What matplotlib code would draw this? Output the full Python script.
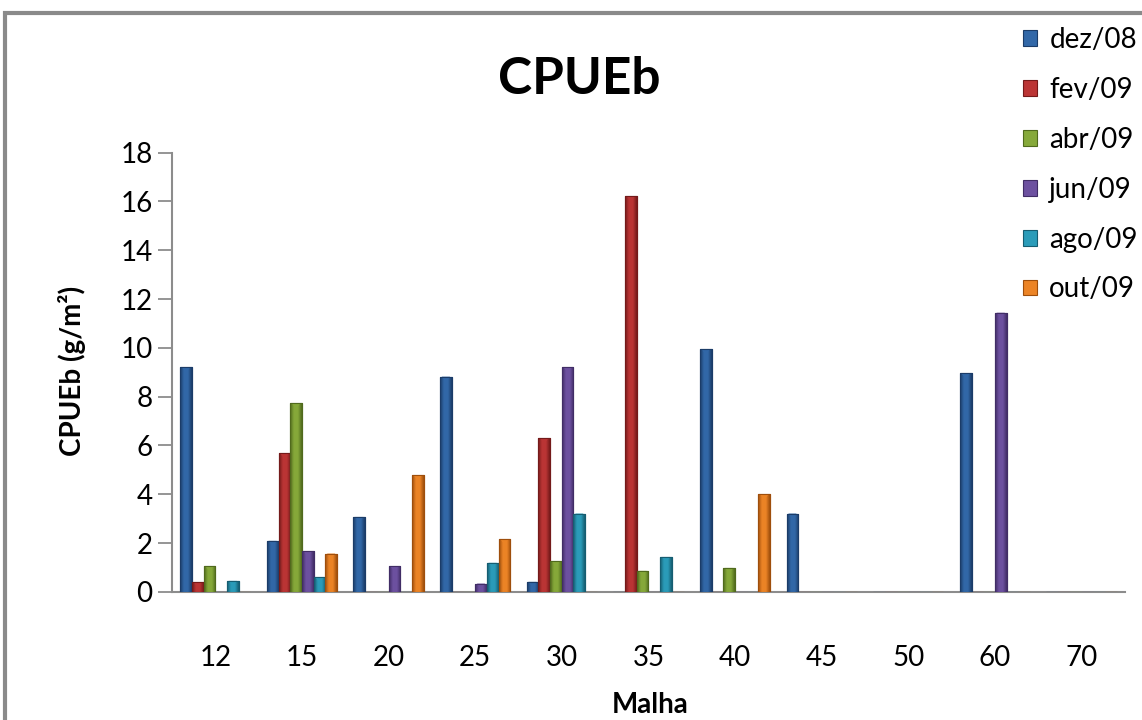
import numpy as np
import matplotlib
matplotlib.use("Agg")
import matplotlib.pyplot as plt
from matplotlib.colors import LinearSegmentedColormap
from matplotlib.patches import Rectangle, Polygon

plt.rcParams['font.family'] = ['Lato', 'DejaVu Sans']

malha = ["12", "15", "20", "25", "30", "35", "40", "45", "50", "60", "70"]
meses = ["dez/08", "fev/09", "abr/09", "jun/09", "ago/09", "out/09"]

dez08 = [9.20, 2.09, 3.07, 8.82, 0.41, 0, 9.94, 3.21, 0, 8.95, 0]
fev09 = [0.40, 5.67, 0, 0, 6.29, 16.22, 0, 0, 0, 0, 0]
abr09 = [1.05, 7.72, 0, 0, 1.26, 0.86, 0.98, 0, 0, 0, 0]
jun09 = [0, 1.66, 1.05, 0.34, 9.20, 0, 0, 0, 0, 11.44, 0]
ago09 = [0.45, 0.59, 0, 1.19, 3.21, 1.43, 0, 0, 0, 0, 0]
out09 = [0, 1.57, 4.77, 2.16, 0, 0, 3.99, 0, 0, 0, 0]
series = [dez08, fev09, abr09, jun09, ago09, out09]

# (centre, dark edge) colours per month
cores = [("#3268a8", "#1b3c68"), ("#bb3535", "#741a1a"), ("#86a93a", "#506a1d"),
         ("#6d51a0", "#412d66"), ("#2b9cb9", "#165d71"), ("#ec8426", "#9e4e0c")]

fig = plt.figure(figsize=(11.42, 7.2), dpi=100)
ax = fig.add_axes([0.1506, 0.178, 0.985 - 0.1506, 0.788 - 0.178])

x = np.arange(len(malha))
w = 0.135
for k, (vals, nome, (c, d)) in enumerate(zip(series, meses, cores)):
    pos = x - 2.5 * w + k * w
    bars = ax.bar(pos, vals, w, color=c, edgecolor=d, linewidth=0.8, label=nome, zorder=3)
    cmap = LinearSegmentedColormap.from_list(nome, [d, c, c, d])
    grad = np.linspace(0, 1, 64).reshape(1, -1)
    for b in bars:
        h = b.get_height()
        if h <= 0:
            continue
        x0 = b.get_x()
        bw = b.get_width()
        im = ax.imshow(grad, cmap=cmap, aspect='auto', extent=[x0, x0 + bw, 0, h],
                       zorder=3.5, interpolation='bicubic')
        im.set_clip_path(b)
        # small bevel on the top of each bar
        tri = Polygon([[x0 + bw * 0.15, h], [x0 + bw * 0.85, h], [x0 + bw * 0.5, h - 0.22]],
                      closed=True, facecolor=c, edgecolor='none', alpha=0.9, zorder=4)
        ax.add_patch(tri)
        ax.add_patch(Rectangle((x0, 0), bw, h, facecolor='none', edgecolor=d,
                               linewidth=0.8, zorder=4.5))

ax.set_xlim(-0.5, len(malha) - 0.5)
ax.set_ylim(0, 18)
ax.set_yticks(np.arange(0, 19, 2))
ax.set_xticks(x)
ax.set_xticklabels(malha)
ax.tick_params(axis='y', labelsize=20, length=10, width=1.3, color='#8c8c8c', pad=4)
ax.tick_params(axis='x', labelsize=20, length=0, pad=38)
for s in ['top', 'right']:
    ax.spines[s].set_visible(False)
for s in ['left', 'bottom']:
    ax.spines[s].set_color('#8c8c8c')
    ax.spines[s].set_linewidth(1.5)

fig.text(0.507, 0.89, "CPUEb", fontsize=37, fontweight='bold', ha='center', va='center')
fig.text(0.063, 0.485, "CPUEb (g/m²)", fontsize=20, fontweight='bold', rotation=90,
         ha='center', va='center')
fig.text(0.569, 0.021, "Malha", fontsize=20, fontweight='bold', ha='center', va='center')

leg = fig.legend(loc='upper left', bbox_to_anchor=(0.886, 0.978), frameon=False,
                 fontsize=20, handlelength=0.5, handleheight=0.5, handletextpad=0.45,
                 labelspacing=0.86, borderaxespad=0)

# chart area border
fig.add_artist(Rectangle((5 / 1142, -0.1), 1.2, 1 - 13 / 720 + 0.1, transform=fig.transFigure,
                         facecolor='none', edgecolor='#8a8a8a', linewidth=3, zorder=0))

fig.savefig("out.png", dpi=100)
